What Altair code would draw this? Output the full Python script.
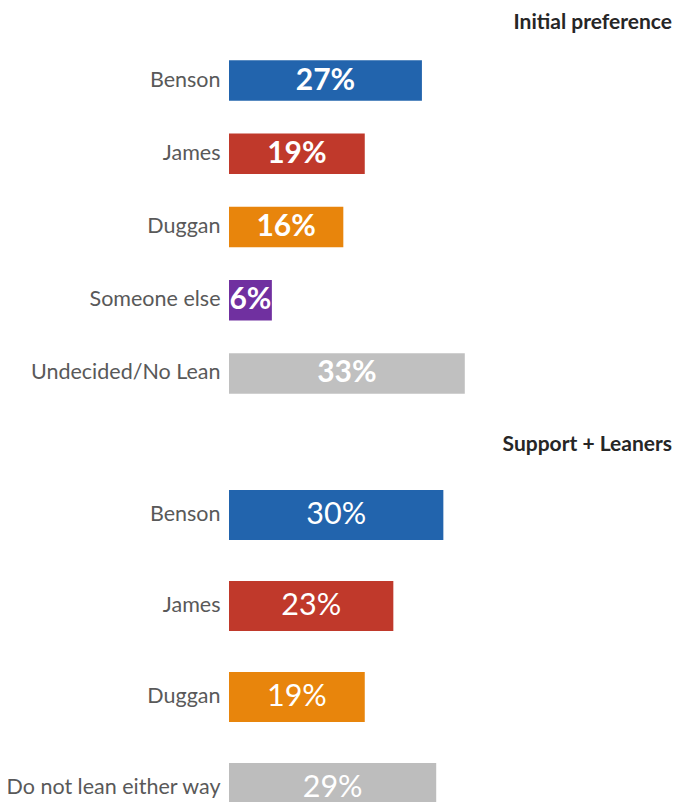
import altair as alt
import pandas as pd

top_labels = ["Benson", "James", "Duggan", "Someone else", "Undecided/No Lean"]
top_values = [27, 19, 16, 6, 33]
top_colors = ["#2264ad", "#c0392b", "#e8850c", "#7030a0", "#c0c0c0"]

bot_labels = ["Benson", "James", "Duggan", "Do not lean either way"]
bot_values = [30, 23, 19, 29]
bot_colors = ["#2264ad", "#c0392b", "#e8850c", "#bdbdbd"]

FONT = "Lato"
XMAX = 62


def panel(labels, values, colors, title, height, yscale, weight, tsize, toffset):
    df = pd.DataFrame({"cand": labels, "val": values, "col": colors,
                       "lbl": [f"{v}%" for v in values]})
    y = alt.Y("cand:N", sort=labels, title=None, scale=yscale,
              axis=alt.Axis(domain=False, ticks=False, labelPadding=9, labelFontSize=21.5,
                            labelColor="#595959", labelFont=FONT, labelLimit=300))
    x = alt.X("val:Q", title=None, scale=alt.Scale(domain=[0, XMAX]), axis=None)
    bars = alt.Chart(df).mark_bar(clip=True).encode(
        x=x, y=y,
        color=alt.Color("col:N", scale=None, legend=None),
    )
    text = alt.Chart(df).transform_calculate(mid="datum.val / 2").mark_text(
        color="white", font=FONT, fontSize=tsize, fontWeight=weight,
        baseline="middle", align="center"
    ).encode(x=alt.X("mid:Q", scale=alt.Scale(domain=[0, XMAX]), axis=None),
             y=alt.Y("cand:N", sort=labels), text="lbl:N")
    return alt.layer(bars, text).properties(
        width=443, height=height,
        title=alt.TitleParams(title, anchor="end", font=FONT, fontSize=21, fontWeight="bold",
                              color="#262626", offset=toffset),
    )


top = panel(top_labels, top_values, top_colors, "Initial preference", 366,
            alt.Scale(paddingInner=0.447, paddingOuter=0.2235), "bold", 30, 11)
bot = panel(bot_labels, bot_values, bot_colors, "Support + Leaners", 312,
            alt.Scale(paddingInner=0.45, paddingOuter=0, range=[0, 323]), "normal", 30.5, 35)

chart = alt.vconcat(top, bot, spacing=24).properties(
    padding={"left": -3, "top": 4, "right": 0, "bottom": 0}
).configure_view(strokeWidth=0, stroke=None)

chart.save("out.html", embed_options={"renderer": "svg", "actions": False})
